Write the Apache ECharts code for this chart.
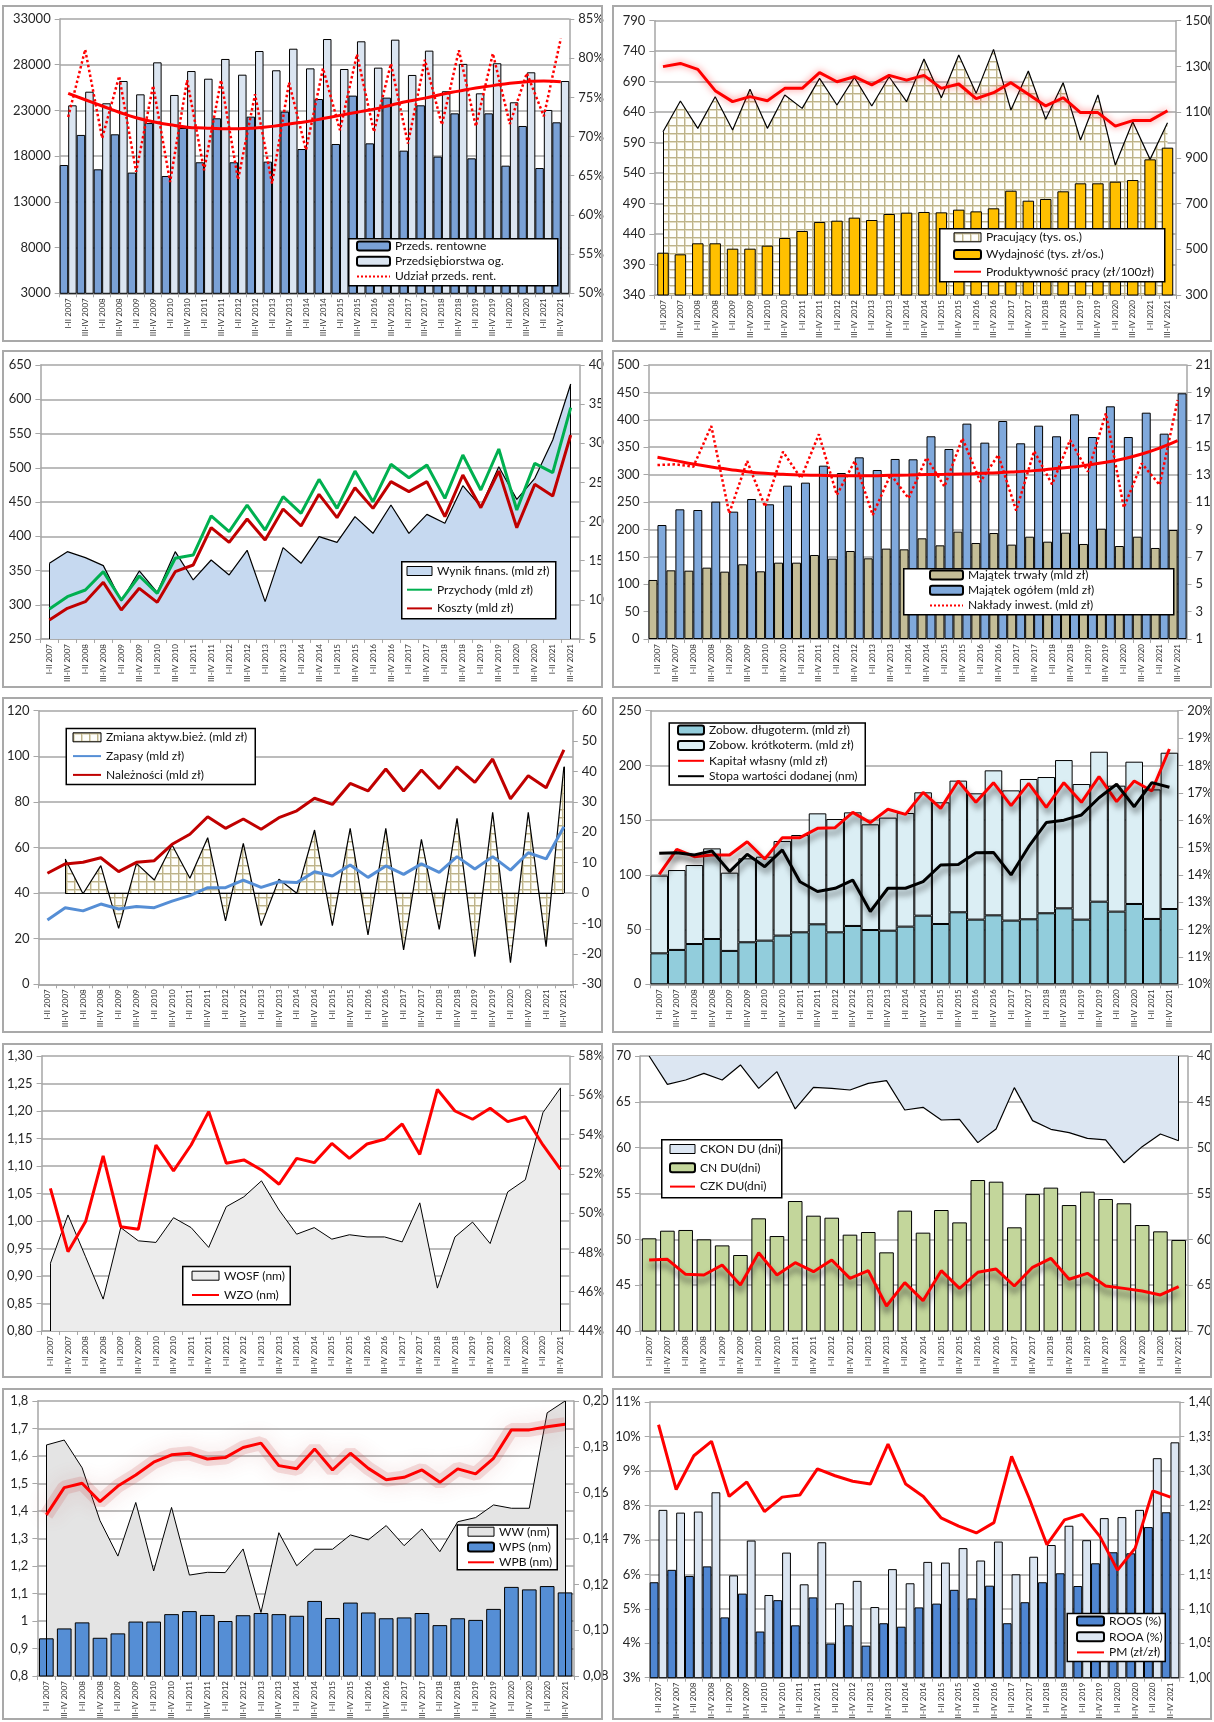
<!DOCTYPE html>
<html>
<head>
<meta charset="utf-8">
<script src="https://cdn.jsdelivr.net/npm/echarts@6/dist/echarts.min.js"></script>
<style>
  body { margin: 0; background: #fff; }
  #page { position: relative; width: 1214px; height: 1722px; background: #fff; overflow: hidden; }
  .chart { position: absolute; }
  .frame { position: absolute; box-sizing: border-box; border: 2px solid #a9a9a9; pointer-events: none; }
</style>
</head>
<body>
<div id="page"></div>
<script>
// kategorie (półrocza)
const catsA = ['I-II 2007','III-IV 2007','I-II 2008','III-IV 2008','I-II 2009','III-IV 2009','I-II 2010','III-IV 2010','I-II 2011','III-IV 2011','I-II 2012','III-IV 2012','I-II 2013','III-IV 2013','I-II 2014','III-IV 2014','I-II 2015','III-IV 2015','I-II 2016','III-IV 2016','I-II 2017','III-IV 2017','I-II 2018','III-IV 2018','I-II 2019','III-IV 2019','I-II 2020','III-IV 2020','I-II 2021','III-IV 2021'];
// w dolnych wykresach oryginał ma podpis "I-II 2020" zamiast "I-II 2021"
const catsB = ['I-II 2007','III-IV 2007','I-II 2008','III-IV 2008','I-II 2009','III-IV 2009','I-II 2010','III-IV 2010','I-II 2011','III-IV 2011','I-II 2012','III-IV 2012','I-II 2013','III-IV 2013','I-II 2014','III-IV 2014','I-II 2015','III-IV 2015','I-II 2016','III-IV 2016','I-II 2017','III-IV 2017','I-II 2018','III-IV 2018','I-II 2019','III-IV 2019','I-II 2020','III-IV 2020','I-II 2020','III-IV 2021'];

// wykres 1
const p1Rentowne = [17030, 20320, 16560, 20390, 16200, 21620, 15830, 21080, 17330, 22140, 17330, 22320, 17400, 22870, 18780, 24250, 19330, 24620, 19400, 24400, 18600, 23560, 17950, 22680, 17760, 22680, 16960, 21300, 16700, 21700];
const p1Ogolem = [23560, 25050, 23780, 26220, 24760, 28260, 24690, 27310, 26470, 28630, 26910, 29500, 27390, 29750, 27600, 30810, 27530, 30560, 27680, 30740, 26880, 29540, 25100, 28090, 24870, 28160, 23890, 27170, 23050, 26220];
const p1Udzial = [72.5, 81.1, 69.8, 77.7, 65.5, 76.5, 64.2, 77.2, 65.7, 77.2, 64.5, 75.4, 64.0, 76.9, 68.3, 78.7, 70.8, 80.5, 70.6, 79.3, 69.1, 79.8, 71.5, 81.0, 71.3, 80.6, 71.6, 78.1, 72.6, 82.5];
const p1Trend = [75.5, 74.7, 73.9, 73.1, 72.4, 71.9, 71.5, 71.2, 71.1, 71.0, 71.0, 71.1, 71.3, 71.6, 71.9, 72.3, 72.7, 73.1, 73.5, 74.0, 74.5, 74.9, 75.4, 75.8, 76.2, 76.5, 76.8, 77.0, 77.1, 77.0];
const p1LeftTicks = [3000, 8000, 13000, 18000, 23000, 28000, 33000];
const p1RightTicks = [50, 55, 60, 65, 70, 75, 80, 85];

// wykres 2
const p2Pracujacy = [607.9, 658.2, 613.4, 665.3, 610.7, 677.4, 613.4, 668.1, 646.2, 695.4, 651.7, 697.1, 650.0, 698.1, 657.1, 727.1, 663.7, 733.7, 670.8, 743.0, 643.5, 707.4, 628.2, 688.3, 594.3, 668.1, 553.2, 624.3, 562.5, 622.7];
const p2Wydajnosc = [409.4, 406.7, 424.8, 424.8, 416.0, 416.0, 420.9, 433.5, 445.0, 459.7, 461.9, 466.9, 463.0, 472.9, 475.1, 476.2, 475.6, 480.0, 477.2, 482.2, 511.1, 494.7, 497.5, 510.1, 523.2, 523.2, 525.9, 528.6, 562.5, 581.7];
const p2Produktywnosc = [1299, 1313, 1287, 1194, 1146, 1168, 1150, 1204, 1204, 1273, 1233, 1255, 1219, 1261, 1240, 1261, 1204, 1223, 1159, 1185, 1229, 1178, 1127, 1163, 1098, 1098, 1039, 1063, 1063, 1106];
const p2LeftTicks = [340, 390, 440, 490, 540, 590, 640, 690, 740, 790];
const p2RightTicks = [300, 500, 700, 900, 1100, 1300, 1500];

// wykres 3
const p3Wynik = [14.67, 16.16, 15.39, 14.37, 9.85, 13.69, 10.96, 16.16, 12.54, 15.09, 13.18, 16.33, 9.77, 16.67, 14.67, 18.07, 17.35, 20.63, 18.50, 22.12, 18.50, 20.92, 19.78, 24.59, 21.90, 27.01, 22.84, 25.52, 30.42, 37.57];
const p3Przychody = [293.8, 311.8, 321.5, 348.3, 306.9, 342.0, 316.7, 367.8, 372.6, 429.6, 406.7, 445.6, 409.1, 457.8, 433.5, 483.1, 440.7, 495.2, 450.5, 505.0, 485.5, 504.0, 455.3, 518.6, 467.5, 527.4, 438.3, 506.4, 492.8, 587.7];
const p3Koszty = [277.7, 294.8, 304.5, 332.7, 292.3, 324.0, 303.5, 348.3, 358.0, 412.5, 391.1, 425.2, 394.5, 439.8, 415.0, 461.2, 427.1, 470.9, 440.7, 479.7, 465.1, 479.7, 428.6, 489.4, 441.7, 495.2, 412.5, 475.8, 458.8, 547.8];
const p3LeftTicks = [250, 300, 350, 400, 450, 500, 550, 600, 650];
const p3RightTicks = [5, 10, 15, 20, 25, 30, 35, 40];

// wykres 4
const p4Trwaly = [107.7, 125.3, 124.7, 130.2, 122.9, 136.3, 123.5, 139.3, 139.3, 153.3, 146.6, 160.6, 147.2, 164.9, 163.6, 183.7, 170.9, 195.9, 175.2, 193.4, 172.2, 186.7, 177.6, 194.0, 173.4, 201.3, 169.7, 186.7, 166.1, 198.9];
const p4Ogolem = [208.0, 236.6, 235.4, 250.6, 232.4, 255.5, 245.8, 279.8, 285.3, 316.3, 302.9, 331.5, 308.4, 328.5, 327.9, 369.9, 346.7, 393.0, 358.3, 397.8, 357.1, 389.3, 369.9, 410.0, 368.6, 424.6, 368.6, 413.0, 374.7, 448.3];
const p4Naklady = [13.70, 13.75, 13.58, 16.55, 10.17, 13.99, 10.66, 14.67, 12.73, 15.94, 11.51, 13.99, 10.05, 13.02, 11.27, 14.24, 12.12, 15.65, 12.48, 14.43, 10.37, 14.72, 12.29, 15.52, 13.21, 17.47, 10.59, 13.82, 12.24, 18.44];
const p4Trend = [14.26, 14.02, 13.77, 13.56, 13.38, 13.21, 13.09, 13.02, 12.97, 12.95, 12.92, 12.92, 12.92, 12.95, 12.97, 13.00, 13.02, 13.04, 13.09, 13.14, 13.21, 13.29, 13.41, 13.53, 13.70, 13.90, 14.16, 14.50, 14.94, 15.48];
const p4LeftTicks = [0, 50, 100, 150, 200, 250, 300, 350, 400, 450, 500];
const p4RightTicks = [1, 3, 5, 7, 9, 11, 13, 15, 17, 19, 21];

// wykres 5
const p5Zmiana = [null, 11.22, -0.2, 9.02, -11.58, 9.79, 4.31, 15.82, 4.86, 18.23, -9.17, 16.37, -10.71, 4.53, -0.07, 20.75, -10.71, 21.30, -13.78, 21.30, -18.71, 17.68, -11.91, 24.59, -20.90, 26.56, -22.87, 26.56, -17.61, 41.58];
const p5Zapasy = [28.2, 33.6, 32.2, 35.2, 33.0, 34.1, 33.6, 36.5, 38.9, 42.4, 42.4, 45.7, 42.5, 45.0, 44.6, 49.4, 47.5, 52.3, 46.9, 51.9, 48.2, 52.8, 49.1, 56.0, 50.6, 56.0, 50.1, 57.7, 55.0, 69.1];
const p5Naleznosci = [48.7, 52.8, 53.5, 55.5, 49.4, 53.5, 54.2, 61.4, 65.8, 73.5, 68.4, 72.5, 68.0, 73.1, 76.1, 81.6, 78.9, 88.1, 84.8, 94.4, 84.8, 94.0, 85.9, 95.4, 88.6, 98.8, 81.3, 91.5, 86.2, 102.8];
const p5LeftTicks = [0, 20, 40, 60, 80, 100, 120];
const p5RightTicks = [-30, -20, -10, 0, 10, 20, 30, 40, 50, 60];

// wykres 6
const p6Dlugo = [28.3, 31.4, 36.8, 41.4, 30.5, 38.4, 39.9, 44.5, 47.5, 54.8, 47.5, 53.3, 49.6, 49.0, 52.7, 62.7, 55.1, 65.8, 59.1, 63.0, 58.2, 59.4, 64.9, 69.4, 59.1, 75.5, 66.4, 73.4, 59.7, 68.8];
const p6Krotko = [71.0, 73.0, 72.2, 82.8, 71.5, 76.7, 76.7, 86.4, 88.9, 101.4, 103.5, 103.8, 96.6, 103.3, 103.8, 112.7, 111.2, 120.3, 115.4, 132.5, 119.0, 128.2, 124.5, 135.5, 123.9, 137.0, 115.1, 130.0, 118.4, 142.8];
const p6Kapital = [100.5, 123.3, 116.6, 118.1, 118.1, 130.3, 114.5, 134.0, 134.0, 142.5, 143.1, 157.1, 147.7, 159.9, 155.3, 175.4, 160.8, 185.8, 166.3, 184.2, 163.2, 183.6, 161.7, 184.2, 166.3, 189.7, 166.9, 185.8, 176.6, 215.0];
const p6Stopa = [14.79, 14.81, 14.73, 14.87, 14.12, 14.75, 14.30, 14.91, 13.75, 13.39, 13.51, 13.81, 12.66, 13.51, 13.51, 13.75, 14.36, 14.38, 14.81, 14.82, 14.00, 15.03, 15.91, 16.00, 16.19, 16.82, 17.31, 16.49, 17.37, 17.20];
const p6LeftTicks = [0, 50, 100, 150, 200, 250];
const p6RightTicks = [10, 11, 12, 13, 14, 15, 16, 17, 18, 19, 20];

// wykres 7
const p7Wosf = [0.923, 1.011, 0.935, 0.858, 0.988, 0.964, 0.961, 1.006, 0.988, 0.952, 1.026, 1.044, 1.073, 1.020, 0.976, 0.988, 0.967, 0.975, 0.971, 0.971, 0.962, 1.033, 0.878, 0.971, 0.998, 0.959, 1.053, 1.075, 1.197, 1.242];
const p7Wzo = [51.26, 48.04, 49.57, 52.91, 49.31, 49.18, 53.47, 52.15, 53.47, 55.17, 52.54, 52.71, 52.20, 51.47, 52.79, 52.57, 53.55, 52.79, 53.52, 53.76, 54.54, 52.99, 56.30, 55.20, 54.78, 55.34, 54.66, 54.91, 53.47, 52.23];
const p7LeftTicks = [0.80, 0.85, 0.90, 0.95, 1.00, 1.05, 1.10, 1.15, 1.20, 1.25, 1.30];
const p7RightTicks = [44, 46, 48, 50, 52, 54, 56, 58];

// wykres 8
const p8Ckon = [40.0, 43.09, 42.62, 41.89, 42.62, 40.98, 43.53, 41.71, 45.78, 43.42, 43.53, 43.71, 42.98, 42.69, 45.89, 45.60, 46.98, 46.91, 49.45, 47.96, 43.45, 47.05, 48.00, 48.36, 48.98, 49.16, 51.64, 49.89, 48.51, 49.24];
const p8Cn = [50.11, 50.94, 51.02, 50.00, 49.34, 48.29, 52.29, 50.36, 54.18, 52.58, 52.36, 50.51, 50.80, 48.58, 53.13, 50.73, 53.20, 51.85, 56.47, 56.29, 51.31, 54.94, 55.64, 53.74, 55.20, 54.40, 53.93, 51.56, 50.87, 49.93];
const p8Czk = [47.74, 47.82, 46.18, 46.11, 47.20, 45.02, 48.54, 46.11, 47.45, 46.47, 47.74, 45.74, 46.58, 42.73, 45.27, 43.31, 46.58, 44.65, 46.40, 46.76, 44.91, 46.95, 47.93, 45.64, 46.29, 44.91, 44.65, 44.36, 43.93, 44.84];
const p8LeftTicks = [40, 45, 50, 55, 60, 65, 70];
const p8RightTicks = [40, 45, 50, 55, 60, 65, 70];

// wykres 9
const p9Ww = [1.640, 1.658, 1.557, 1.365, 1.236, 1.431, 1.182, 1.413, 1.167, 1.177, 1.176, 1.262, 1.031, 1.321, 1.201, 1.261, 1.261, 1.313, 1.295, 1.347, 1.274, 1.335, 1.252, 1.361, 1.376, 1.422, 1.410, 1.410, 1.757, 1.800];
const p9Wps = [0.937, 0.973, 0.995, 0.939, 0.955, 0.998, 0.998, 1.025, 1.036, 1.022, 1.000, 1.021, 1.029, 1.025, 1.019, 1.073, 1.011, 1.067, 1.031, 1.010, 1.013, 1.029, 0.985, 1.010, 1.004, 1.044, 1.124, 1.115, 1.127, 1.104];
const p9Wpb = [0.1503, 0.1622, 0.1641, 0.1561, 0.1629, 0.1677, 0.1733, 0.1765, 0.1772, 0.1747, 0.1753, 0.1797, 0.1816, 0.1718, 0.1704, 0.1791, 0.1699, 0.1772, 0.1706, 0.1656, 0.1667, 0.1699, 0.1645, 0.1704, 0.1682, 0.1750, 0.1874, 0.1874, 0.1888, 0.1899];
const p9LeftTicks = [0.8, 0.9, 1.0, 1.1, 1.2, 1.3, 1.4, 1.5, 1.6, 1.7, 1.8];
const p9RightTicks = [0.08, 0.10, 0.12, 0.14, 0.16, 0.18, 0.20];

// wykres 10
const p10Roos = [5.77, 6.13, 5.95, 6.23, 4.75, 5.44, 4.34, 5.25, 4.52, 5.33, 3.99, 4.52, 3.93, 4.58, 4.48, 5.04, 5.15, 5.55, 5.30, 5.67, 4.58, 5.19, 5.77, 6.03, 5.66, 6.32, 6.64, 6.61, 7.37, 7.80];
const p10Rooa = [7.87, 7.79, 7.82, 8.38, 5.97, 6.98, 5.40, 6.63, 5.71, 6.93, 5.16, 5.81, 5.05, 6.15, 5.74, 6.36, 6.34, 6.76, 6.40, 6.95, 6.00, 6.51, 6.85, 7.41, 6.99, 7.63, 7.66, 7.87, 9.37, 9.83];
const p10Pm = [1.367, 1.273, 1.322, 1.343, 1.263, 1.284, 1.241, 1.262, 1.265, 1.303, 1.293, 1.285, 1.281, 1.339, 1.281, 1.263, 1.232, 1.220, 1.210, 1.225, 1.321, 1.260, 1.193, 1.229, 1.237, 1.205, 1.156, 1.188, 1.271, 1.262];
const p10LeftTicks = [3, 4, 5, 6, 7, 8, 9, 10, 11];
const p10RightTicks = [1.00, 1.05, 1.10, 1.15, 1.20, 1.25, 1.30, 1.35, 1.40];

const FONT = "Lato, 'Open Sans', Arial, sans-serif";
const GRID_COL = '#a6a6a6';

// wzór kratki dla wykresów powierzchniowych
function kratka() {
  const c = document.createElement('canvas');
  c.width = 8; c.height = 8;
  const g = c.getContext('2d');
  g.fillStyle = '#fefefb'; g.fillRect(0, 0, 8, 8);
  g.fillStyle = '#e2dcc4'; g.fillRect(0, 0, 8, 2); g.fillRect(0, 0, 2, 8);
  g.fillStyle = '#bdb38a'; g.fillRect(0, 0, 8, 1); g.fillRect(0, 0, 1, 8);
  return { image: c, repeat: 'repeat' };
}
const KRATKA = kratka();

const pct = v => Math.round(v) + '%';
const comma2 = v => v.toFixed(2).replace('.', ',');
const comma1 = v => String(Math.round(v * 10) / 10).replace('.', ',');

function xAx(cats) {
  return {
    type: 'category', data: cats, boundaryGap: true,
    axisLine: { show: true, lineStyle: { color: GRID_COL, width: 1.5 } },
    axisTick: { show: true, interval: 0, length: 4, lineStyle: { color: GRID_COL } },
    axisLabel: { interval: 0, rotate: 90, fontSize: 8, color: '#333', margin: 5, fontFamily: FONT }
  };
}

function yAx(ticks, fmt, right, extra) {
  return Object.assign({
    type: 'value', position: right ? 'right' : 'left',
    min: ticks[0], max: ticks[ticks.length - 1],
    axisLine: { show: true, lineStyle: { color: GRID_COL, width: 1.5 } },
    axisTick: { show: true, length: 5, lineStyle: { color: GRID_COL }, customValues: ticks },
    axisLabel: { customValues: ticks, formatter: fmt, fontSize: 13, color: '#262626', fontFamily: FONT, margin: 9 },
    splitLine: right ? { show: false } : { show: true, lineStyle: { color: GRID_COL, width: 1.5 } }
  }, extra || {});
}

function line(name, data, color, width, yi, extra) {
  return Object.assign({
    type: 'line', name, data, yAxisIndex: yi, symbol: 'none', z: 5,
    lineStyle: { color, width }, itemStyle: { color }
  }, extra || {});
}

function bar(name, data, color, extra) {
  return Object.assign({
    type: 'bar', name, data, yAxisIndex: 0, barGap: '0%', barCategoryGap: '0%', z: 3,
    itemStyle: { color, borderColor: '#000', borderWidth: 1 }
  }, extra || {});
}

// krawędzie obszaru (odcinki w jednostkach danych)
function edges(segs) {
  return {
    silent: true, symbol: 'none', label: { show: false }, animation: false,
    lineStyle: { color: '#000', width: 1, type: 'solid' },
    data: segs.map(s => [{ coord: s[0] }, { coord: s[1] }])
  };
}

// klucze legendy: prostokąt z obwódką albo sama linia (bez kółka)
function areaKey(name, fill) {
  return { name, icon: 'rect', itemStyle: { color: fill, borderColor: '#000', borderWidth: 1 } };
}
function lineKey(name) {
  return { name, itemStyle: { opacity: 0 } };
}

function panel(frame, grid, cats, yL, yR, box, lg, legendData, series) {
  const page = document.getElementById('page');
  const el = document.createElement('div');
  el.className = 'chart';
  // płótno trochę szersze niż ramka, żeby prawe podpisy nie były ucięte
  const cw = frame[0] < 600 ? frame[2] + 8 : frame[2];
  el.style.cssText = `left:${frame[0]}px;top:${frame[1]}px;width:${cw}px;height:${frame[3]}px`;
  page.appendChild(el);
  const fr = document.createElement('div');
  fr.className = 'frame';
  fr.style.cssText = `left:${frame[0]}px;top:${frame[1]}px;width:${frame[2]}px;height:${frame[3]}px`;
  page.appendChild(fr);
  const chart = echarts.init(el, null, { renderer: 'canvas' });
  chart.setOption({
    animation: false,
    grid: { left: grid[0], top: grid[1], width: grid[2], height: grid[3], containLabel: false, outerBoundsMode: 'none' },
    xAxis: xAx(cats),
    yAxis: [yL, yR],
    graphic: [{
      type: 'rect', left: box[0], top: box[1], z: 10,
      shape: { width: box[2], height: box[3] },
      style: { fill: '#fff', stroke: '#000', lineWidth: 1.5 }
    }],
    legend: {
      left: lg[0], top: lg[1], orient: 'vertical', padding: 0, z: 20,
      itemWidth: lg[3], itemHeight: 9, itemGap: lg[2], selectedMode: false,
      textStyle: { fontSize: 12, fontFamily: FONT, color: '#111', lineHeight: 14 },
      data: legendData
    },
    series
  });
}

const L = 2, R = 612, LW = 601, RW = 600;

// 1. przedsiębiorstwa
panel([L, 5, LW, 337], [57.7, 14, 509.6, 274.3], catsA,
  yAx(p1LeftTicks, v => String(v)), yAx(p1RightTicks, pct, true),
  [346, 233, 209, 47], [354, 234, 1.3, 33],
  ['Przeds. rentowne', 'Przedsiębiorstwa og.', lineKey('Udział przeds. rent.')],
  [
    bar('Przeds. rentowne', p1Rentowne, '#7aa1d6'),
    bar('Przedsiębiorstwa og.', p1Ogolem, '#dbe5f1'),
    line('Udział przeds. rent.', p1Udzial, '#ff0000', 2.5, 1, { lineStyle: { color: '#ff0000', width: 2.5, type: 'dotted' } }),
    line('trend udziału', p1Trend, '#ff0000', 3, 1, { smooth: true })
  ]);

// 2. pracujący, wydajność
panel([R, 5, RW, 337], [42.3, 15.7, 521.9, 274.3], catsA,
  yAx(p2LeftTicks, v => String(v)), yAx(p2RightTicks, v => String(v), true),
  [327, 223, 225, 53], [341, 225.3, 3.2, 27],
  [areaKey('Pracujący (tys. os.)', KRATKA), 'Wydajność (tys. zł/os.)', lineKey('Produktywność pracy (zł/100zł)')],
  [
    line('Pracujący (tys. os.)', p2Pracujacy, '#000', 1.2, 0, {
      z: 1, areaStyle: { color: KRATKA, opacity: 1, origin: 'start' },
      markLine: edges([[[0, 340], [0, p2Pracujacy[0]]]])
    }),
    bar('Wydajność (tys. zł/os.)', p2Wydajnosc, '#ffc000', { barCategoryGap: '34%' }),
    line('Produktywność pracy (zł/100zł)', p2Produktywnosc, '#ff0000', 3, 1, {
      lineStyle: { color: '#ff0000', width: 3, shadowBlur: 7, shadowColor: 'rgba(255,0,0,0.55)' }
    })
  ]);

// 3. wynik, przychody, koszty
panel([L, 350, LW, 338], [38.4, 15, 539.3, 274], catsA,
  yAx(p3LeftTicks, v => String(v)), yAx(p3RightTicks, v => String(v), true),
  [399, 211, 154, 57], [404, 214, 4.7, 25],
  [areaKey('Wynik finans. (mld zł)', '#c6d9f0'), lineKey('Przychody (mld zł)'), lineKey('Koszty (mld zł)')],
  [
    line('Wynik finans. (mld zł)', p3Wynik, '#000', 1.2, 1, {
      z: 1, areaStyle: { color: '#c6d9f0', opacity: 1, origin: 'start' },
      markLine: edges([[[0, 5], [0, p3Wynik[0]]], [[29, 5], [29, p3Wynik[29]]]])
    }),
    line('Przychody (mld zł)', p3Przychody, '#00b050', 3, 0),
    line('Koszty (mld zł)', p3Koszty, '#c00000', 3, 0)
  ]);

// 4. majątek
panel([R, 350, RW, 338], [36.5, 15, 538.1, 274], catsA,
  yAx(p4LeftTicks, v => String(v)), yAx(p4RightTicks, v => String(v), true),
  [291, 218, 270, 46], [317, 218, 1.3, 33],
  ['Majątek trwały (mld zł)', 'Majątek ogółem (mld zł)', lineKey('Nakłady inwest. (mld zł)')],
  [
    bar('Majątek trwały (mld zł)', p4Trwaly, '#c4bd97'),
    bar('Majątek ogółem (mld zł)', p4Ogolem, '#80a9dc'),
    line('Nakłady inwest. (mld zł)', p4Naklady, '#ff0000', 2.5, 1, { lineStyle: { color: '#ff0000', width: 2.5, type: 'dotted' } }),
    line('trend nakładów', p4Trend, '#ff0000', 3, 1, { smooth: true })
  ]);

// 5. aktywa bieżące
panel([L, 697, LW, 336], [36.5, 13.7, 534.3, 273.6], catsA,
  yAx(p5LeftTicks, v => String(v)), yAx(p5RightTicks, v => String(v), true),
  [63.5, 30.7, 189, 56], [70, 33.3, 4.8, 28],
  [areaKey('Zmiana aktyw.bież. (mld zł)', KRATKA), lineKey('Zapasy (mld zł)'), lineKey('Należności (mld zł)')],
  [
    line('Zmiana aktyw.bież. (mld zł)', p5Zmiana, '#000', 1.2, 1, {
      z: 1, areaStyle: { color: KRATKA, opacity: 1, origin: 0 },
      markLine: edges([[[1, 0], [1, p5Zmiana[1]]], [[29, 0], [29, p5Zmiana[29]]], [[1, 0], [29, 0]]])
    }),
    line('Zapasy (mld zł)', p5Zapasy, '#558ed5', 3, 0),
    line('Należności (mld zł)', p5Naleznosci, '#c00000', 3, 0)
  ]);

// 6. zobowiązania, kapitał
const shadowGray = { shadowBlur: 6, shadowColor: 'rgba(0,0,0,0.55)', shadowOffsetX: 2, shadowOffsetY: 5 };
panel([R, 697, RW, 336], [38.4, 13.7, 527.8, 273.6], catsA,
  yAx(p6LeftTicks, v => String(v)), yAx(p6RightTicks, pct, true),
  [56.5, 25.3, 196, 62], [65, 26, 1.4, 26],
  ['Zobow. długoterm. (mld zł)', 'Zobow. krótkoterm. (mld zł)', lineKey('Kapitał własny (mld zł)'), lineKey('Stopa wartości dodanej (nm)')],
  [
    bar('Zobow. długoterm. (mld zł)', p6Dlugo, '#92cddc', { stack: 'zob' }),
    bar('Zobow. krótkoterm. (mld zł)', p6Krotko, '#dbeef4', { stack: 'zob' }),
    line('Kapitał własny (mld zł)', p6Kapital, '#ff0000', 3, 0, { lineStyle: Object.assign({ color: '#ff0000', width: 3 }, shadowGray) }),
    line('Stopa wartości dodanej (nm)', p6Stopa, '#000', 3, 1, { lineStyle: Object.assign({ color: '#000', width: 3 }, shadowGray) })
  ]);

// 7. WOSF, WZO
panel([L, 1043, LW, 335], [39.6, 13, 527.7, 275], catsB,
  yAx(p7LeftTicks, comma2), yAx(p7RightTicks, pct, true),
  [180, 222.7, 107.5, 38.3], [189, 225.7, 5.3, 27],
  [areaKey('WOSF (nm)', '#ececec'), lineKey('WZO (nm)')],
  [
    line('WOSF (nm)', p7Wosf, '#000', 1, 0, {
      z: 1, areaStyle: { color: '#ececec', opacity: 1, origin: 'start' },
      markLine: edges([[[0, 0.8], [0, p7Wosf[0]]], [[29, 0.8], [29, p7Wosf[29]]]])
    }),
    line('WZO (nm)', p7Wzo, '#ff0000', 3, 1)
  ]);

// 8. cykle
panel([R, 1043, RW, 335], [28, 13, 547.8, 275], catsB,
  yAx(p8LeftTicks, v => String(v)), yAx(p8RightTicks, v => String(v), true, { inverse: true }),
  [49, 96, 120, 58], [57, 99, 4.8, 25],
  [areaKey('CKON DU (dni)', '#dce6f2'), 'CN DU(dni)', lineKey('CZK DU(dni)')],
  [
    line('CKON DU (dni)', p8Ckon, '#000', 1.2, 1, {
      z: 1, areaStyle: { color: '#dce6f2', opacity: 1, origin: 'start' },
      markLine: edges([[[29, 40], [29, p8Ckon[29]]]])
    }),
    bar('CN DU(dni)', p8Cn, '#c3d69b', { barCategoryGap: '20%' }),
    line('CZK DU(dni)', p8Czk, '#ff0000', 3, 0, {
      lineStyle: { color: '#ff0000', width: 3, shadowBlur: 6, shadowColor: 'rgba(40,40,40,0.7)', shadowOffsetY: 6 }
    })
  ]);

// 9. WW, WPS, WPB
panel([L, 1388, LW, 332], [35.4, 13, 536.6, 275], catsB,
  yAx(p9LeftTicks, comma1), yAx(p9RightTicks, comma2, true),
  [454.5, 136.3, 100, 44.7], [465, 136.7, 1.3, 26],
  [areaKey('WW (nm)', '#e4e4e4'), 'WPS (nm)', lineKey('WPB (nm)')],
  [
    line('WW (nm)', p9Ww, '#000', 1, 0, {
      z: 1, areaStyle: { color: '#e4e4e4', opacity: 1, origin: 'start' },
      markLine: edges([[[0, 0.8], [0, p9Ww[0]]], [[29, 0.8], [29, p9Ww[29]]]])
    }),
    bar('WPS (nm)', p9Wps, '#558ed5', { barCategoryGap: '18%' }),
    // szeroka różowa poświata pod linią WPB
    line('poświata WPB', p9Wpb, 'rgba(205,90,90,0.2)', 14, 1, {
      z: 4, lineStyle: { color: 'rgba(205,90,90,0.2)', width: 14, shadowBlur: 20, shadowColor: 'rgba(185,55,55,0.6)' }
    }),
    line('WPB (nm)', p9Wpb, '#ff0000', 3, 1)
  ]);

// 10. ROOS, ROOA, PM
panel([R, 1388, RW, 332], [37.7, 14, 529.6, 275.7], catsB,
  yAx(p10LeftTicks, pct), yAx(p10RightTicks, comma2, true),
  [454.5, 224.7, 98, 48], [464, 226, 1.7, 27],
  ['ROOS (%)', 'ROOA (%)', lineKey('PM (zł/zł)')],
  [
    bar('ROOS (%)', p10Roos, '#4f86d2'),
    bar('ROOA (%)', p10Rooa, '#dce6f2'),
    line('PM (zł/zł)', p10Pm, '#ff0000', 3, 1)
  ]);
</script>
</body>
</html>
